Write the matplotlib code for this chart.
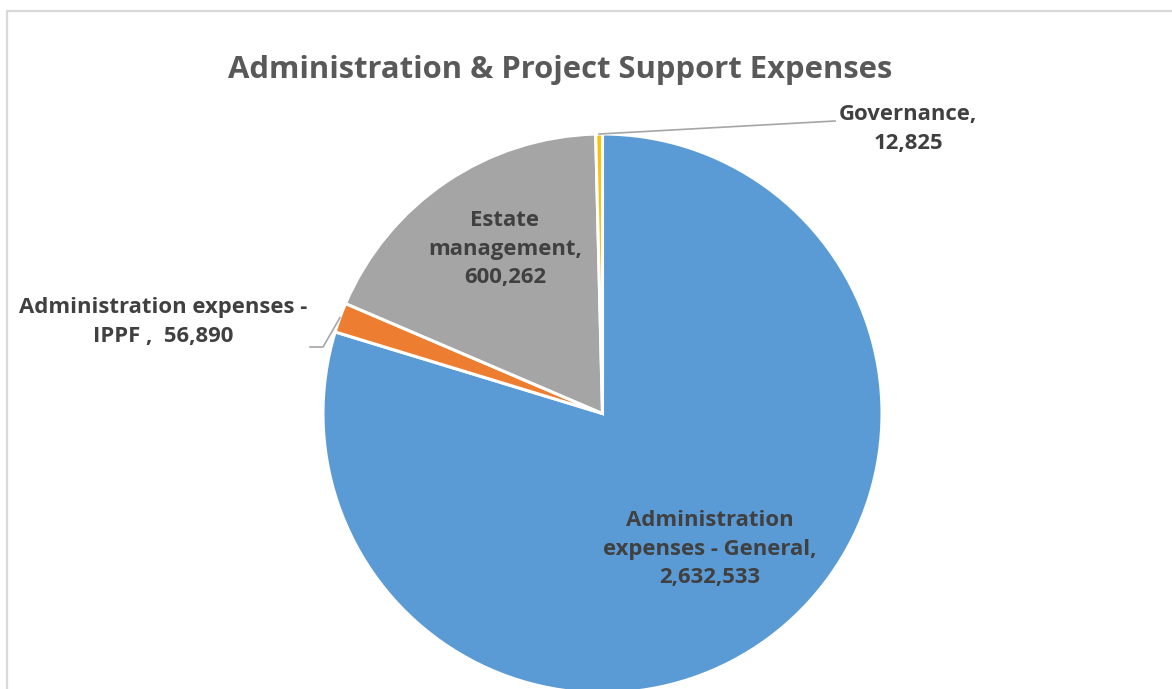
import numpy as np
import matplotlib
matplotlib.use("Agg")
import matplotlib.pyplot as plt
from matplotlib.lines import Line2D

# Expense categories, in drawing order (clockwise from 12 o'clock)
categories = ["Administration expenses - General", "Administration expenses - IPPF ",
              "Estate management", "Governance"]
values = [2632533, 56890, 600262, 12825]
colors = ["#5B9BD5", "#ED7D31", "#A5A5A5", "#FFC000"]
title = "Administration & Project Support Expenses"

W, H = 1172, 689
fig = plt.figure(figsize=(W / 100, H / 100), dpi=100)
ax = fig.add_axes([0, 0, 1, 1])
ax.set_xlim(0, W)
ax.set_ylim(0, H)
ax.set_aspect("equal")
ax.axis("off")

font = "Open Sans"
text_col = "#404040"

cx, cy, r = 602.5, H - 413.5, 279.5
ax.pie(values, colors=colors, startangle=90, counterclock=False,
       center=(cx, cy), radius=r,
       wedgeprops=dict(edgecolor="white", linewidth=2.2), frame=False)
ax.set_xlim(0, W)
ax.set_ylim(0, H)

# chart border (top and left edges visible)
ax.add_line(Line2D([6.5, 6.5, W], [0, H - 10.5, H - 10.5], color="#d9d9d9", lw=1.6))

ax.text(560, H - 70, title, ha="center", va="center", fontsize=22.3,
        fontweight="bold", color="#595959", family=font)

total = sum(values)
fr = np.array(values) / total
cum = np.cumsum(fr) - fr / 2
mid = np.deg2rad(90 - 360 * cum)

def fmt(v):
    return f"{v:,}"

kw = dict(ha="center", va="center", fontsize=15.9, fontweight="bold",
          color=text_col, family=font, linespacing=1.45)

# General
ax.text(710, H - 549, "Administration\nexpenses - General,\n" + fmt(values[0]), **kw)
# Estate management
ax.text(505, H - 249, "Estate\nmanagement,\n" + fmt(values[2]), **kw)
# IPPF
ax.text(163, H - 322, "Administration expenses -\nIPPF ,  " + fmt(values[1]), **kw)
px, py = cx + r * np.cos(mid[1]), cy + r * np.sin(mid[1])
ax.add_line(Line2D([px, 323, 310], [py, H - 347, H - 347], color="#A6A6A6", lw=1.2))
# Governance
ax.text(908, H - 129, "Governance,\n" + fmt(values[3]), **kw)
gx, gy = cx + r * np.cos(mid[3]), cy + r * np.sin(mid[3])
ax.add_line(Line2D([gx, 835], [gy, H - 121], color="#A6A6A6", lw=1.2))

fig.savefig("out.png", dpi=100, facecolor="white")
